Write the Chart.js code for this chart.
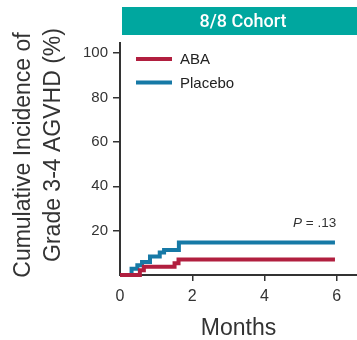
<!DOCTYPE html>
<html>
<head>
<meta charset="utf-8">
<script src="https://cdn.jsdelivr.net/npm/chart.js@4/dist/chart.umd.min.js"></script>
<style>
  body { margin: 0; background: #fff; }
</style>
</head>
<body>
<canvas id="grafica" width="357" height="340"></canvas>
<script>
// cumulative incidence, months vs %
const abaMeses = [0, 0.55, 0.66, 1.51, 1.62, 5.95];
const abaPct = [0, 2.1, 3.7, 5.3, 7.0, 7.0];
const placeboMeses = [0, 0.32, 0.48, 0.61, 0.83, 1.1, 1.22, 1.63, 5.95];
const placeboPct = [0, 2.8, 4.4, 5.9, 8.3, 10.1, 11.3, 14.7, 14.7];
const ticksX = [0, 2, 4, 6];
const ticksY = [20, 40, 60, 80, 100];
const tituloY = ['Cumulative Incidence of', 'Grade 3-4 AGVHD (%)'];
const cohorte = '8/8 Cohort';
const valorP = '.13';

const ROJO = '#b11f3f';
const AZUL = '#1679a6';
const TEAL = '#00a79f';
const GRIS = '#333333';
const FUENTE = '"Liberation Sans", Arial, sans-serif';

function puntos(xs, ys) {
    return xs.map((x, i) => ({ x: x, y: ys[i] }));
}

// teal banner, y title, legend and p value
const extras = {
    id: 'extras',
    afterDraw(chart) {
        const ctx = chart.ctx;
        ctx.save();
        ctx.fillStyle = TEAL;
        ctx.fillRect(122, 7, 235, 28);
        ctx.fillStyle = '#fff';
        ctx.font = '500 18px Roboto';
        ctx.textAlign = 'center';
        ctx.textBaseline = 'middle';
        ctx.fillText(cohorte, 243, 22);

        // titulo eje y, dos lineas giradas
        ctx.fillStyle = GRIS;
        ctx.font = '23px ' + FUENTE;
        [[24, 155], [54, 145]].forEach(([cx, cy], i) => {
            ctx.save();
            ctx.translate(cx, cy);
            ctx.rotate(-Math.PI / 2);
            ctx.fillText(tituloY[i], 0, 0);
            ctx.restore();
        });

        // leyenda
        ctx.textAlign = 'left';
        ctx.font = '15px ' + FUENTE;
        chart.data.datasets.forEach((ds, i) => {
            const y = 59 + i * 23.5;
            ctx.strokeStyle = ds.borderColor;
            ctx.lineWidth = 4;
            ctx.beginPath();
            ctx.moveTo(136, y);
            ctx.lineTo(172, y);
            ctx.stroke();
            ctx.fillStyle = '#222';
            ctx.fillText(ds.label, 180, y + 1);
        });

        // P = .13
        let x = 293;
        ctx.fillStyle = GRIS;
        ctx.font = 'italic 13.5px ' + FUENTE;
        ctx.fillText('P', x, 223);
        x += ctx.measureText('P').width;
        ctx.font = '13.5px ' + FUENTE;
        ctx.fillText(' = ' + valorP, x, 223);
        ctx.restore();
    }
};

const ctx = document.getElementById('grafica');
const grafica = new Chart(ctx, {
    type: 'line',
    data: {
        datasets: [{
            label: 'ABA',
            data: puntos(abaMeses, abaPct),
            borderColor: ROJO,
            borderWidth: 4,
            stepped: true,
            pointRadius: 0,
            fill: false,
            clip: false
        }, {
            label: 'Placebo',
            data: puntos(placeboMeses, placeboPct),
            borderColor: AZUL,
            borderWidth: 4,
            stepped: true,
            pointRadius: 0,
            fill: false,
            clip: false
        }]
    },
    options: {
        responsive: false,
        animation: false,
        layout: { padding: { top: 43, right: 0, bottom: 0, left: 0 } },
        plugins: {
            legend: { display: false },
            tooltip: { enabled: false }
        },
        scales: {
            x: {
                type: 'linear',
                min: 0,
                max: 6.56,
                afterBuildTicks: (s) => { s.ticks = ticksX.map(v => ({ value: v })); },
                afterFit: (s) => { s.height = 65; },
                ticks: {
                    color: GRIS,
                    padding: 6,
                    font: { family: FUENTE, size: 16 }
                },
                grid: {
                    drawOnChartArea: false,
                    tickLength: 6,
                    lineWidth: 1.5,
                    color: (c) => (c.tick && c.tick.value === 0) ? 'rgba(0,0,0,0)' : GRIS
                },
                border: { display: true, color: GRIS, width: 2 },
                title: {
                    display: true,
                    text: 'Months',
                    color: GRIS,
                    padding: 0,
                    font: { family: FUENTE, size: 23, lineHeight: 1.0 }
                }
            },
            y: {
                min: 0,
                max: 104.6,
                afterBuildTicks: (s) => { s.ticks = ticksY.map(v => ({ value: v })); },
                afterFit: (s) => { s.width = 120; },
                ticks: {
                    color: GRIS,
                    padding: 5,
                    font: { family: FUENTE, size: 15 }
                },
                grid: {
                    drawOnChartArea: false,
                    tickLength: 7,
                    lineWidth: 1.5,
                    color: GRIS
                },
                border: { display: true, color: GRIS, width: 2 }
            }
        }
    },
    plugins: [extras]
});
</script>
</body>
</html>
